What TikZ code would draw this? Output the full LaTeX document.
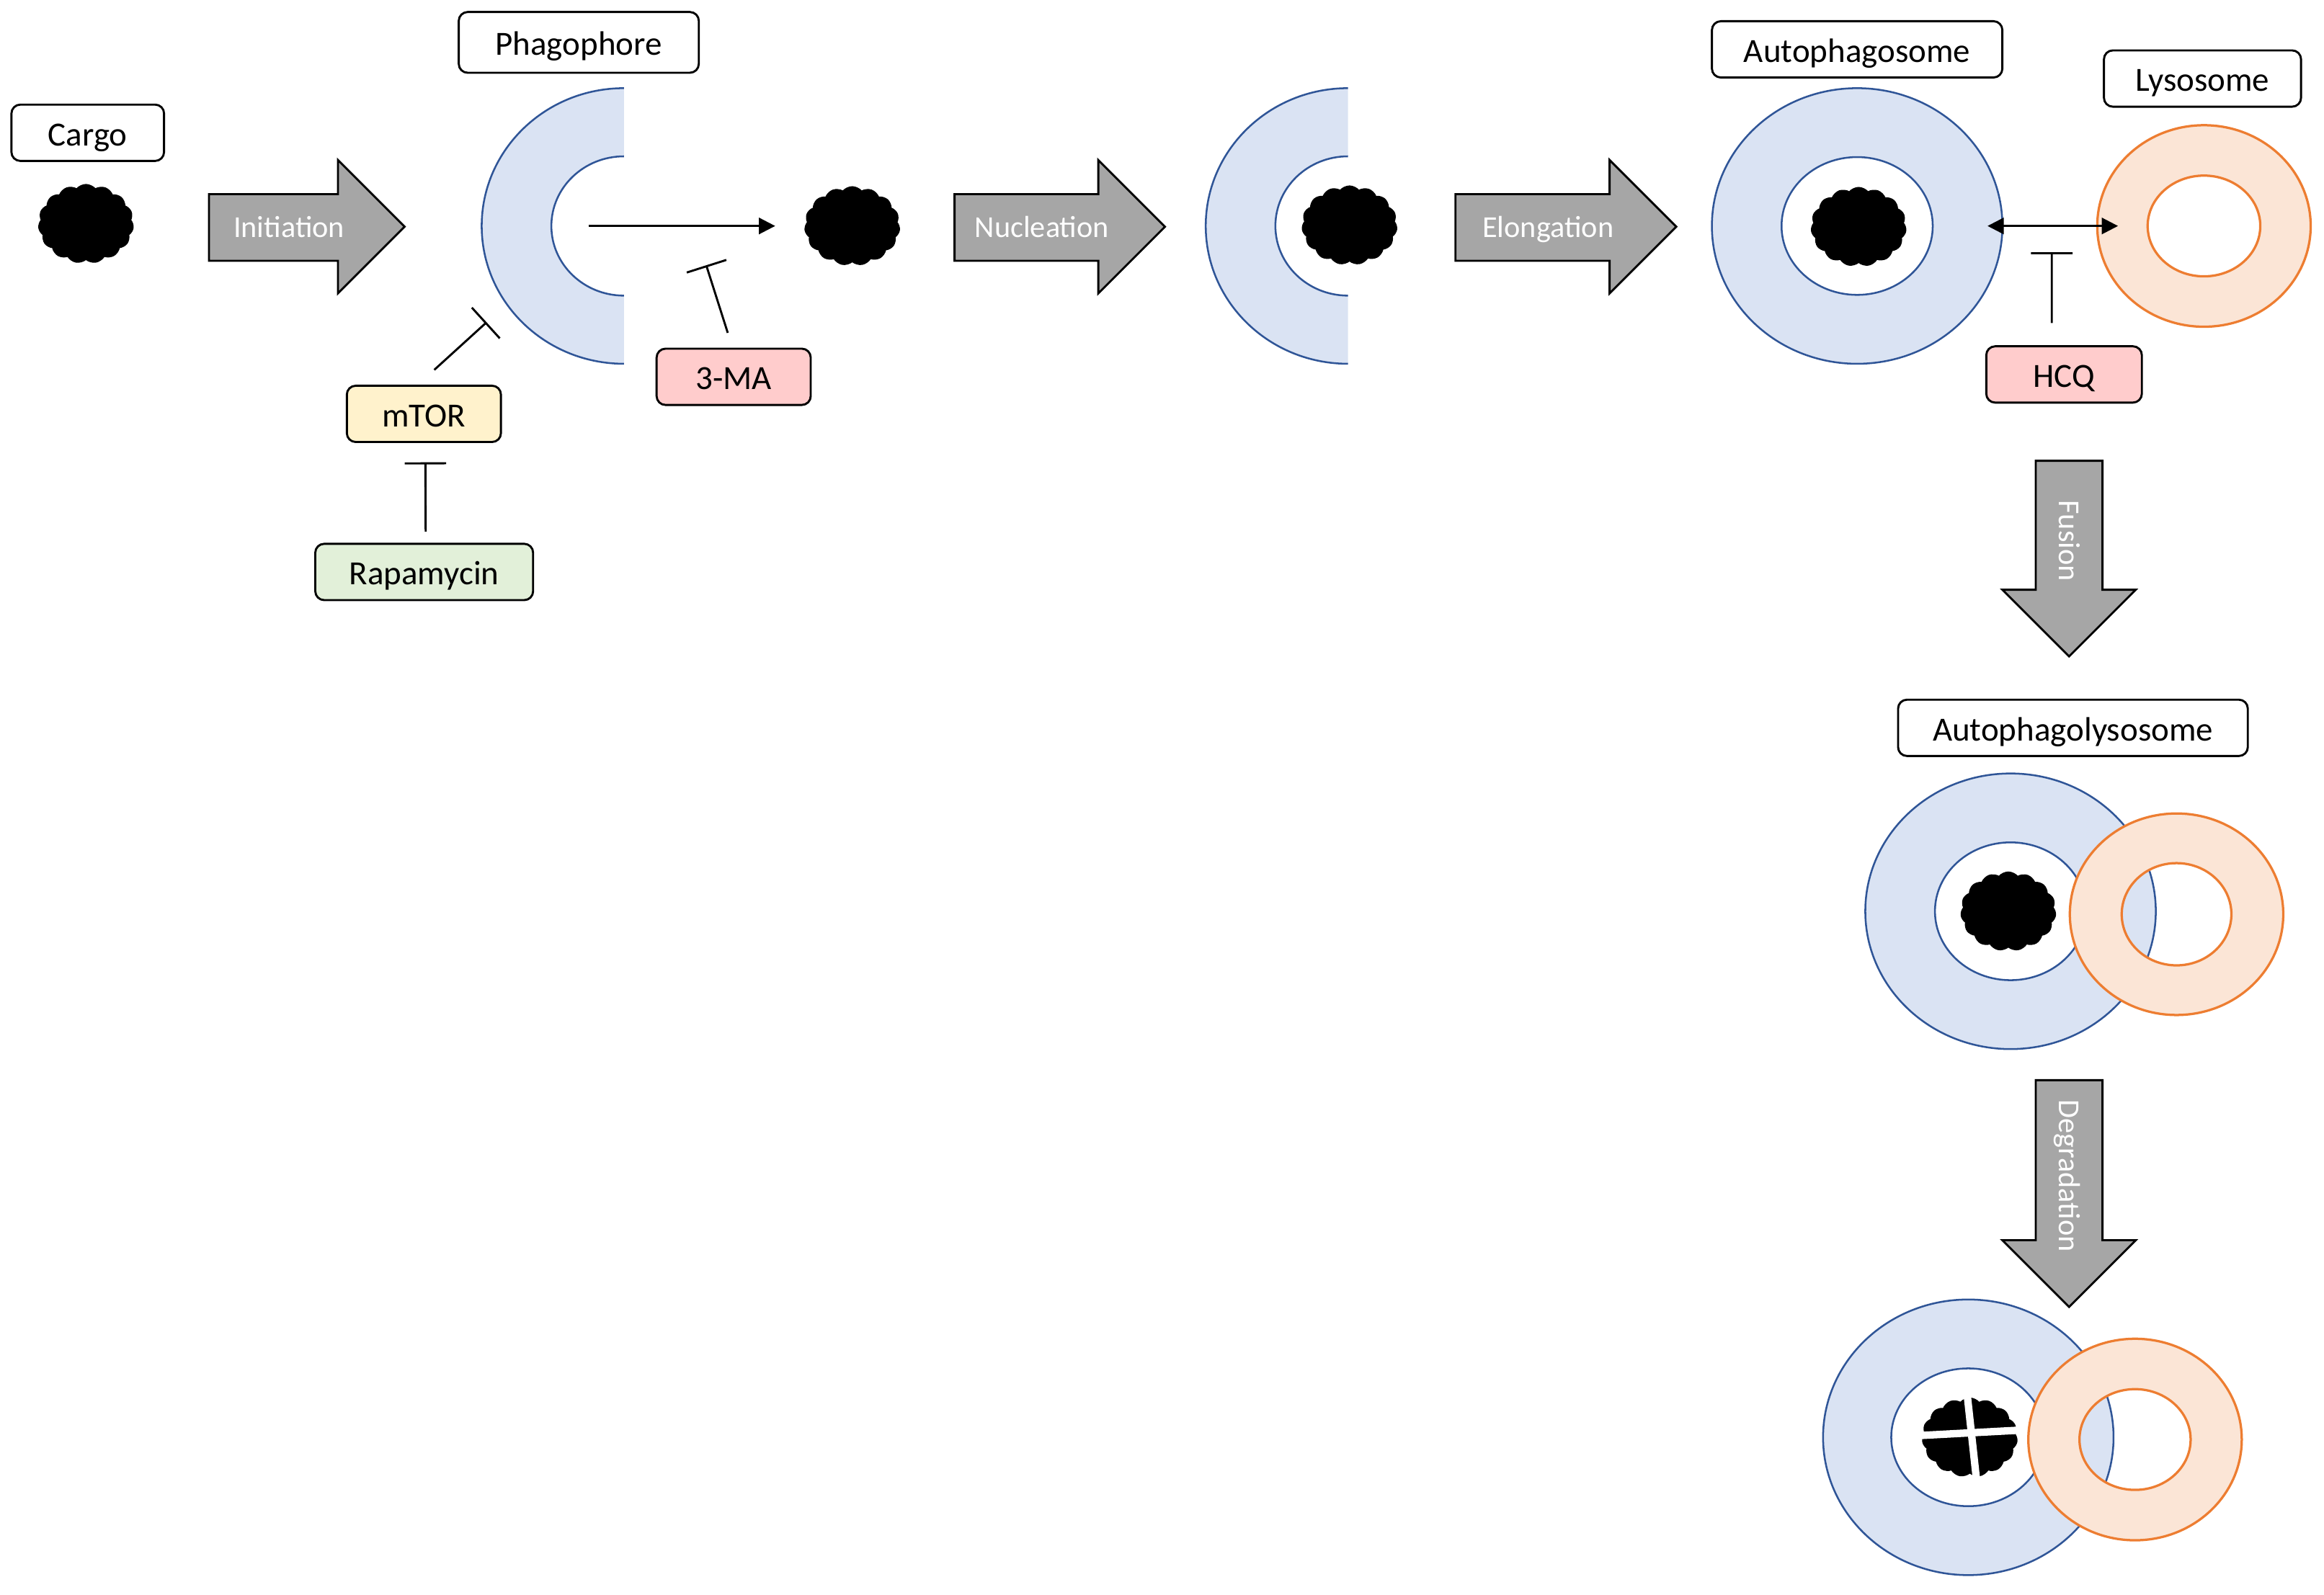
\documentclass[tikz,border=0pt]{standalone}
\usepackage{fontspec}
\setmainfont{Carlito}
\usetikzlibrary{shapes.symbols,arrows.meta}

\definecolor{vesfill}{HTML}{DAE3F3}
\definecolor{vesline}{HTML}{2F5597}
\definecolor{lysofill}{HTML}{FBE5D6}
\definecolor{lysoline}{HTML}{ED7D31}
\definecolor{drugred}{HTML}{FFCCCC}
\definecolor{mtoryellow}{HTML}{FFF2CC}
\definecolor{rapagreen}{HTML}{E2F0D9}
\definecolor{stagegray}{HTML}{A6A6A6}

\tikzset{
  tag/.style={draw, rounded corners=0.12cm, line width=0.8pt, minimum height=0.76cm, inner sep=0pt, text height=9.9pt, text depth=0pt, font=\fontsize{13}{15}\selectfont},
  cargo/.style={cloud, cloud puffs=15, cloud puff arc=100, fill=black, draw=black, inner sep=0pt, minimum width=1.28cm, minimum height=1.06cm},
  vesicle/.style={fill=vesfill, draw=vesline, line width=0.7pt, even odd rule},
  lyso/.style={fill=lysofill, draw=lysoline, line width=0.9pt, even odd rule},
  stage/.style={fill=stagegray, draw=black, line width=0.8pt},
  stagetext/.style={text=white, inner sep=0pt, text height=7.6pt, text depth=0pt, font=\fontsize{11.7}{14}\selectfont},
  inhibit/.style={-{Bar[width=0.56cm]}, line width=0.8pt},
  pointer/.style={-{Triangle[length=0.22cm,width=0.22cm]}, line width=0.8pt},
  twoway/.style={{Triangle[length=0.22cm,width=0.22cm]}-{Triangle[length=0.22cm,width=0.22cm]}, line width=0.8pt}
}

\begin{document}
\begin{tikzpicture}[x=0.02cm, y=-0.02cm]
  \useasboundingbox (0,0) rectangle (1568,1076);

  % stage arrows
  \foreach \a/\b/\txt in {141/273/Initiation, 644/786/Nucleation, 982/1131/Elongation}
  {
    \draw[stage] (\a,131) -- ({\b-45},131) -- ({\b-45},108) -- (\b,153) -- ({\b-45},198) -- ({\b-45},176) -- (\a,176) -- cycle;
    \node[stagetext] (st-\txt) at ({(\a+\b)/2-12},153.5) {\txt};
  }
  \foreach \a/\b/\txt in {311/443/Fusion, 729/882/Degradation}
  {
    \draw[stage] (1373.5,\a) -- (1373.5,{\b-45}) -- (1351,{\b-45}) -- (1396,\b) -- (1441,{\b-45}) -- (1418.5,{\b-45}) -- (1418.5,\a) -- cycle;
    \node[stagetext, rotate=-90] (st-\txt) at (1396,{(\a+\b)/2-12}) {\txt};
  }

  % phagophores
  \foreach \cx/\nm in {421/phagoA, 909.5/phagoB}
  {
    \coordinate (\nm) at (\cx,152.5);
    \fill[vesfill] (\cx,59.5) arc[start angle=270, end angle=90, x radius=96, y radius=93]
      -- (\cx,199.5) arc[start angle=90, end angle=270, x radius=49, y radius=47] -- cycle;
    \draw[vesline, line width=0.7pt] (\cx,59.5) arc[start angle=270, end angle=90, x radius=96, y radius=93]
      (\cx,199.5) arc[start angle=90, end angle=270, x radius=49, y radius=47];
  }

  % vesicles
  \coordinate (apg) at (1253,152.5);
  \coordinate (lys) at (1487,152.5);
  \coordinate (aplA) at (1356.5,615);
  \coordinate (aplB) at (1468.5,617);
  \coordinate (degA) at (1328,970);
  \coordinate (degB) at (1440.5,971.5);
  \path[vesicle] (apg) ellipse[x radius=98, y radius=93] (apg) ellipse[x radius=51, y radius=46.5];
  \path[lyso] (lys) ellipse[x radius=72, y radius=68] (lys) ellipse[x radius=38, y radius=34];
  \path[vesicle] (aplA) ellipse[x radius=98, y radius=93] (aplA) ellipse[x radius=51, y radius=46.5];
  \path[lyso] (aplB) ellipse[x radius=72, y radius=68] (aplB) ellipse[x radius=37, y radius=34.5];
  \path[vesicle] (degA) ellipse[x radius=98, y radius=93] (degA) ellipse[x radius=52, y radius=46.5];
  \path[lyso] (degB) ellipse[x radius=72, y radius=68] (degB) ellipse[x radius=37.5, y radius=34];

  % cargo
  \node[cargo] (cargoA) at (58,151) {};
  \node[cargo] (cargoB) at (575,152.5) {};
  \node[cargo] (cargoC) at (910.5,152) {};
  \node[cargo] (cargoD) at (1254,153) {};
  \node[cargo] (cargoE) at (1355,615) {};
  \node[cargo] (cargoF) at (1329,970) {};
  \draw[white, line width=0.1cm] ([shift={(-0.75cm,0.02cm)}]cargoF.center) -- ([shift={(0.75cm,0.1cm)}]cargoF.center);
  \draw[white, line width=0.1cm] ([shift={(-0.04cm,0.62cm)}]cargoF.center) -- ([shift={(0.1cm,-0.66cm)}]cargoF.center);

  % labels
  \node[tag, minimum width=2.06cm] (cargoL) at (59.2,89.6) {Cargo};
  \node[tag, minimum width=3.24cm, minimum height=0.82cm] (phagoL) at (390.5,28.6) {Phagophore};
  \node[tag, minimum width=3.92cm] (apgL) at (1253,33.3) {Autophagosome};
  \node[tag, minimum width=2.66cm] (lysL) at (1486,53) {Lysosome};
  \node[tag, minimum width=4.72cm] (aplL) at (1398.6,491.2) {Autophagolysosome};
  \node[tag, minimum width=2.08cm, fill=drugred] (ma) at (495,254.3) {3-MA};
  \node[tag, minimum width=2.1cm, fill=drugred] (hcq) at (1392.6,252.7) {HCQ};
  \node[tag, minimum width=2.08cm, fill=mtoryellow] (mtor) at (286,279.3) {mTOR};
  \node[tag, minimum width=2.94cm, fill=rapagreen] (rapa) at (286.2,386) {Rapamycin};

  % connectors
  \coordinate (mtorhit) at (328.3,217.5);
  \coordinate (mahit) at (476.5,179);
  \coordinate (hcqhit) at (1384.3,170.2);
  \path[pointer] ([xshift=-0.48cm]phagoA) edge ([xshift=-1.04cm]cargoB.center);
  \path[twoway] ([xshift=1.76cm]apg) edge ([xshift=-1.16cm]lys);
  \path[inhibit]
    ([shift={(0.14cm,0.2cm)}]mtor.north) edge (mtorhit)
    ([shift={(0.02cm,0.15cm)}]rapa.north) edge ([shift={(0.02cm,-0.26cm)}]mtor.south)
    ([shift={(-0.08cm,0.2cm)}]ma.north) edge (mahit)
    ([shift={(-0.166cm,0.3cm)}]hcq.north) edge (hcqhit);
\end{tikzpicture}
\end{document}
